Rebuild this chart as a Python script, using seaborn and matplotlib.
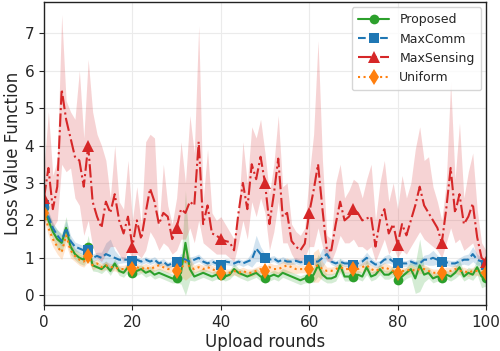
import numpy as np
import pandas as pd
import seaborn as sns
import matplotlib
matplotlib.use("Agg")
import matplotlib.pyplot as plt

rounds = list(range(101))

proposed = [2.35, 2.0, 1.7, 1.5, 1.4, 1.8, 1.3, 1.1, 1.0, 0.95,
            1.3, 0.8, 0.75, 0.7, 0.8, 0.65, 0.85, 0.65, 0.6, 0.75,
            0.6, 0.65, 0.7, 0.6, 0.65, 0.55, 0.6, 0.55, 0.5, 0.45,
            0.45, 0.6, 1.4, 0.7, 0.5, 0.55, 0.6, 0.55, 0.5, 0.55,
            0.55, 0.5, 0.55, 0.7, 0.6, 0.55, 0.5, 0.55, 0.6, 0.5,
            0.45, 0.5, 0.55, 0.5, 0.6, 0.55, 0.5, 0.45, 0.4, 0.45,
            0.45, 0.55, 0.8, 0.55, 0.45, 0.45, 0.5, 0.8, 0.5, 0.5,
            0.5, 0.55, 0.5, 0.75, 0.5, 0.55, 0.7, 0.55, 0.55, 0.65,
            0.4, 0.5, 0.6, 0.7, 0.45, 0.8, 0.55, 0.6, 0.45, 0.5,
            0.45, 0.55, 0.5, 0.6, 0.75, 0.5, 0.6, 0.55, 0.75, 0.5,
            0.45]
proposed_spread = [0.15, 0.2, 0.2, 0.25, 0.25, 0.3, 0.2, 0.15, 0.15, 0.15,
                   0.3, 0.15, 0.12, 0.12, 0.12, 0.12, 0.12, 0.12, 0.12, 0.12,
                   0.12, 0.12, 0.12, 0.12, 0.12, 0.12, 0.12, 0.12, 0.12, 0.12,
                   0.12, 0.3, 1.4, 0.3, 0.12, 0.12, 0.12, 0.12, 0.12, 0.12,
                   0.12, 0.12, 0.12, 0.15, 0.12, 0.12, 0.12, 0.12, 0.12, 0.12,
                   0.12, 0.12, 0.12, 0.12, 0.12, 0.12, 0.12, 0.12, 0.12, 0.12,
                   0.12, 0.2, 0.3, 0.15, 0.12, 0.12, 0.12, 0.2, 0.12, 0.12,
                   0.12, 0.12, 0.12, 0.2, 0.12, 0.12, 0.15, 0.12, 0.12, 0.15,
                   0.12, 0.15, 0.15, 0.2, 0.4, 0.7, 0.2, 0.15, 0.12, 0.12,
                   0.12, 0.12, 0.12, 0.15, 0.2, 0.12, 0.15, 0.15, 0.2, 0.3,
                   0.2]

maxcomm = [2.4, 2.1, 1.8, 1.6, 1.45, 1.8, 1.45, 1.3, 1.25, 1.2,
           1.2, 1.0, 1.05, 1.0, 1.1, 1.05, 1.0, 0.95, 0.95, 0.95,
           0.92, 0.95, 0.9, 0.95, 0.9, 0.95, 0.85, 0.9, 0.8, 0.85,
           0.88, 1.0, 0.95, 0.9, 0.95, 1.0, 0.9, 0.85, 0.9, 0.85,
           0.82, 0.9, 0.88, 0.85, 0.9, 0.85, 0.9, 0.95, 1.25, 1.1,
           1.0, 0.95, 0.98, 0.9, 0.95, 0.9, 0.9, 0.92, 0.88, 0.9,
           0.95, 0.9, 0.9, 1.0, 1.1, 0.9, 0.85, 0.9, 0.85, 0.85,
           0.8, 0.85, 0.9, 1.0, 0.9, 0.82, 0.85, 0.95, 0.98, 0.9,
           0.85, 0.85, 0.85, 0.9, 0.85, 0.85, 0.95, 0.95, 1.0, 0.95,
           0.9, 0.88, 0.85, 0.85, 0.9, 0.95, 0.95, 1.1, 0.95, 0.9,
           0.8]
maxcomm_spread = [0.15, 0.15, 0.15, 0.15, 0.15, 0.2, 0.15, 0.12, 0.12, 0.12,
                  0.15, 0.1, 0.1, 0.15, 0.3, 0.45, 0.2, 0.1, 0.08, 0.08,
                  0.08, 0.08, 0.08, 0.08, 0.08, 0.08, 0.08, 0.08, 0.08, 0.08,
                  0.08, 0.12, 0.1, 0.12, 0.1, 0.1, 0.08, 0.08, 0.08, 0.08,
                  0.08, 0.08, 0.08, 0.08, 0.08, 0.08, 0.08, 0.2, 0.35, 0.2,
                  0.1, 0.08, 0.08, 0.08, 0.08, 0.08, 0.08, 0.08, 0.08, 0.08,
                  0.08, 0.08, 0.1, 0.25, 0.15, 0.08, 0.08, 0.08, 0.08, 0.08,
                  0.08, 0.08, 0.1, 0.15, 0.1, 0.08, 0.08, 0.1, 0.12, 0.08,
                  0.08, 0.08, 0.08, 0.08, 0.08, 0.1, 0.12, 0.15, 0.2, 0.12,
                  0.08, 0.08, 0.08, 0.08, 0.1, 0.12, 0.15, 0.2, 0.15, 0.1,
                  0.1]

maxsensing = [2.6, 3.4, 2.3, 2.9, 5.5, 4.7, 4.2, 3.7, 3.6, 2.9,
              4.0, 2.5, 2.1, 1.8, 2.5, 2.2, 2.7, 2.0, 1.65, 2.1,
              1.3, 2.0, 1.5, 2.2, 2.85, 2.5, 1.9, 2.2, 2.1, 1.5,
              1.8, 2.3, 2.2, 2.5, 2.4, 4.1, 1.9, 2.4, 1.65, 1.6,
              1.5, 1.45, 1.42, 1.2, 2.2, 3.0, 2.3, 3.5, 3.1, 3.7,
              3.0, 1.9, 2.7, 3.65, 2.1, 2.2, 1.45, 1.3, 1.2, 1.38,
              2.2, 2.8, 3.5, 2.3, 1.2, 1.2, 1.9, 2.5, 2.0, 2.1,
              2.3, 2.2, 2.0, 2.05, 2.1, 1.3, 2.0, 2.3, 1.65, 1.9,
              1.35, 1.9, 1.6, 2.0, 2.4, 2.9, 2.4, 2.2, 2.0, 1.8,
              1.4, 2.3, 3.4, 2.2, 2.7, 1.9, 2.1, 2.45, 1.55, 1.0,
              0.9]
maxsensing_upper = [3.4, 4.9, 3.2, 3.6, 7.5, 5.2, 4.9, 4.7, 6.0, 4.2,
                    6.3, 4.9, 4.3, 4.0, 3.6, 2.6, 4.0, 2.5, 2.3, 3.6,
                    2.0, 2.9, 1.9, 4.1, 4.3, 4.2, 1.8, 3.5, 2.4, 1.9,
                    2.6, 4.1, 3.0, 4.8, 3.8, 7.2, 2.5, 3.9, 2.2, 2.0,
                    2.1, 1.9, 1.7, 1.5, 2.3, 4.1, 3.0, 4.5, 4.2, 4.7,
                    3.8, 2.7, 3.5, 4.8, 2.9, 3.0, 1.9, 1.7, 1.6, 1.8,
                    3.2, 4.3, 6.8, 3.6, 1.6, 1.5, 3.0, 3.5, 2.6, 2.8,
                    3.1, 3.0, 2.6, 3.1, 3.5, 2.0, 3.0, 3.6, 2.5, 3.0,
                    2.3, 3.2, 2.6, 3.0, 3.9, 4.5, 3.6, 3.7, 2.9, 2.5,
                    2.0, 3.0, 5.7, 3.1, 4.6, 2.6, 3.3, 3.8, 2.3, 1.4,
                    1.2]
maxsensing_lower = [1.9, 2.1, 1.8, 2.0, 3.5, 3.3, 3.4, 2.6, 2.4, 1.6,
                    2.0, 1.3, 1.0, 0.9, 1.1, 1.3, 1.3, 1.1, 0.9, 1.2,
                    1.0, 1.1, 1.0, 1.2, 1.7, 1.5, 1.2, 1.4, 1.3, 1.1,
                    1.2, 1.5, 1.5, 1.8, 1.4, 2.0, 1.4, 1.3, 1.2, 1.1,
                    1.1, 1.1, 1.0, 0.9, 1.4, 2.0, 1.5, 2.5, 2.1, 2.6,
                    2.2, 1.2, 1.7, 2.5, 1.4, 1.4, 1.1, 0.9, 0.9, 1.0,
                    1.3, 1.3, 1.8, 1.3, 0.9, 0.9, 1.2, 1.6, 1.4, 1.4,
                    1.5, 1.3, 1.3, 1.2, 1.3, 0.9, 1.2, 1.5, 1.1, 1.3,
                    1.0, 1.2, 1.1, 1.3, 1.5, 1.7, 1.5, 1.4, 1.3, 1.2,
                    1.0, 1.4, 1.8, 1.4, 1.5, 1.2, 1.3, 1.4, 1.0, 0.8,
                    0.7]

uniform = [2.2, 1.8, 1.5, 1.3, 1.15, 1.6, 1.2, 1.05, 0.95, 0.9,
           1.05, 0.8, 0.85, 0.75, 0.8, 0.75, 0.75, 0.7, 0.7, 0.75,
           0.7, 0.75, 0.7, 0.75, 0.7, 0.75, 0.8, 0.75, 0.7, 0.7,
           0.65, 0.7, 0.9, 0.75, 0.7, 0.75, 0.7, 0.75, 0.7, 0.65,
           0.6, 0.6, 0.6, 0.65, 0.6, 0.65, 0.6, 0.6, 0.65, 0.7,
           0.65, 0.75, 0.7, 0.7, 0.75, 0.8, 0.75, 0.7, 0.7, 0.7,
           0.7, 0.75, 0.8, 0.7, 0.65, 0.65, 0.7, 0.75, 0.7, 0.7,
           0.7, 0.7, 0.75, 0.8, 0.7, 0.65, 0.7, 0.75, 0.7, 0.65,
           0.6, 0.65, 0.65, 0.7, 0.65, 0.7, 0.7, 0.65, 0.6, 0.6,
           0.6, 0.65, 0.65, 0.7, 0.65, 0.65, 0.6, 0.65, 0.65, 0.6,
           0.6]
uniform_spread = [0.2, 0.2, 0.2, 0.2, 0.2, 0.25, 0.2, 0.15, 0.15, 0.15,
                  0.15, 0.12, 0.12, 0.1, 0.1, 0.1, 0.1, 0.1, 0.1, 0.1,
                  0.1, 0.1, 0.1, 0.1, 0.1, 0.1, 0.1, 0.1, 0.1, 0.1,
                  0.1, 0.2, 0.5, 0.25, 0.1, 0.1, 0.1, 0.1, 0.1, 0.1,
                  0.1, 0.1, 0.1, 0.1, 0.1, 0.1, 0.1, 0.1, 0.1, 0.1,
                  0.1, 0.12, 0.12, 0.12, 0.15, 0.2, 0.15, 0.12, 0.1, 0.1,
                  0.15, 0.4, 0.45, 0.2, 0.1, 0.1, 0.1, 0.12, 0.1, 0.1,
                  0.1, 0.1, 0.12, 0.15, 0.1, 0.1, 0.1, 0.12, 0.12, 0.1,
                  0.1, 0.1, 0.1, 0.12, 0.1, 0.12, 0.12, 0.1, 0.1, 0.1,
                  0.1, 0.1, 0.1, 0.12, 0.1, 0.1, 0.1, 0.1, 0.12, 0.1,
                  0.1]

labels = ["Proposed", "MaxComm", "MaxSensing", "Uniform"]

sns.set_theme(style="ticks")
plt.rcParams['font.family'] = ['DejaVu Sans']

fig, ax = plt.subplots(figsize=(5.0, 3.51), dpi=100)
fig.subplots_adjust(left=0.088, right=0.972, top=0.994, bottom=0.13)

x = np.array(rounds)
series = [
    (labels[0], np.array(proposed), np.array(proposed) - np.array(proposed_spread),
     np.array(proposed) + np.array(proposed_spread), "#2ca02c", "-", "o", 7),
    (labels[1], np.array(maxcomm), np.array(maxcomm) - np.array(maxcomm_spread),
     np.array(maxcomm) + np.array(maxcomm_spread), "#1f77b4", "--", "s", 7),
    (labels[2], np.array(maxsensing), np.array(maxsensing_lower),
     np.array(maxsensing_upper), "#d62728", "-.", "^", 8),
    (labels[3], np.array(uniform), np.array(uniform) - np.array(uniform_spread),
     np.array(uniform) + np.array(uniform_spread), "#ff7f0e", ":", "d", 8),
]

for name, y, lo, hi, color, ls, mk, ms in series:
    ax.fill_between(x, lo, hi, color=color, alpha=0.2, linewidth=0)
    sns.lineplot(x=x, y=y, ax=ax, color=color, linestyle=ls, marker=mk,
                 markersize=ms, markevery=10, linewidth=1.5, label=name,
                 markeredgewidth=0)

ax.set_xlim(0, 100)
ax.set_ylim(-0.27, 7.83)
ax.set_xticks([0, 20, 40, 60, 80, 100])
ax.set_yticks(range(8))
ax.grid(True, color="#ebebeb", linewidth=0.8)
ax.set_axisbelow(True)
ax.tick_params(labelsize=11, length=3.5, width=0.8)
ax.set_xlabel("Upload rounds", fontsize=12, labelpad=2)
ax.set_ylabel("Loss Value Function", fontsize=12, labelpad=2)
for s in ax.spines.values():
    s.set_color("#222222")
    s.set_linewidth(1.0)

ax.legend(loc="upper right", fontsize=9, frameon=True, handlelength=2.5,
          borderpad=0.5, labelspacing=0.5, bbox_to_anchor=(1.0, 1.0),
          borderaxespad=0.4)

fig.savefig("out.png", dpi=100)
